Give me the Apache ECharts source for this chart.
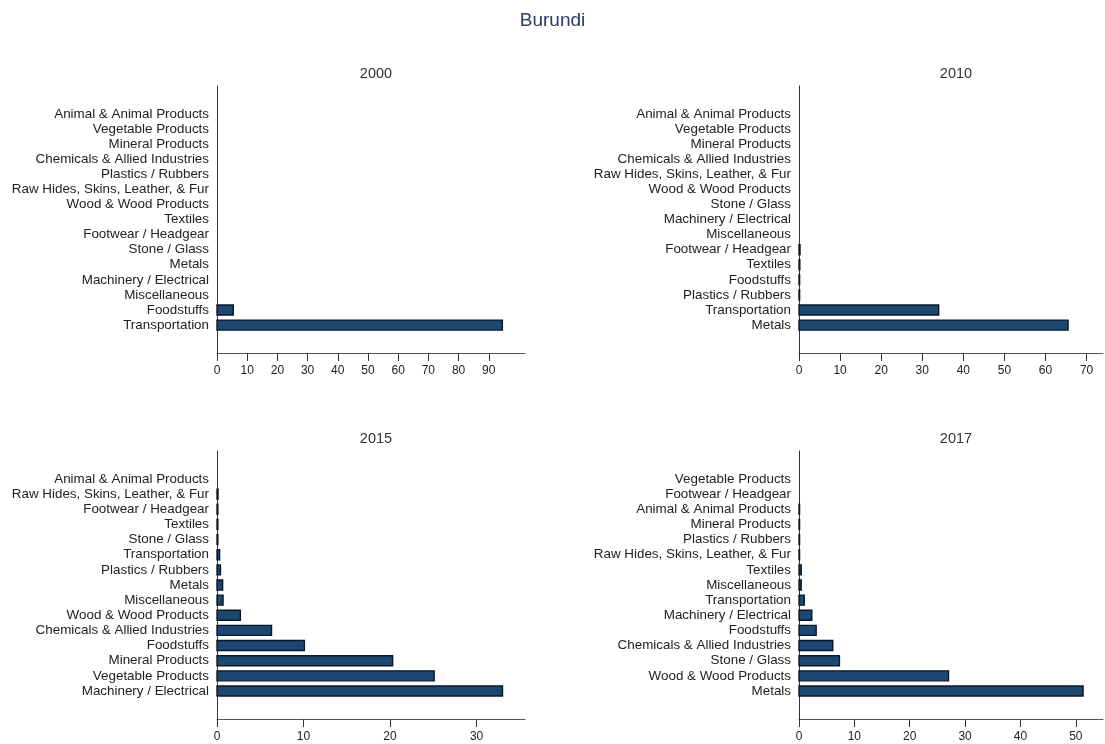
<!DOCTYPE html>
<html>
<head>
<meta charset="utf-8">
<script src="https://cdn.jsdelivr.net/npm/echarts@6/dist/echarts.min.js"></script>
<style>
html,body{margin:0;padding:0;background:#fff;}
#chart{width:1105px;height:744px;}
</style>
</head>
<body>
<div id="chart"></div>
<script>
// ---- Data (categories listed bottom -> top) ----
const title = 'Burundi';
const years = ['2000', '2010', '2015', '2017'];

const cats2000 = ['Transportation', 'Foodstuffs', 'Miscellaneous', 'Machinery / Electrical', 'Metals', 'Stone / Glass', 'Footwear / Headgear', 'Textiles', 'Wood & Wood Products', 'Raw Hides, Skins, Leather, & Fur', 'Plastics / Rubbers', 'Chemicals & Allied Industries', 'Mineral Products', 'Vegetable Products', 'Animal & Animal Products'];
const vals2000 = [94.5, 5.4, 0, 0, 0, 0, 0, 0, 0, 0, 0, 0, 0, 0, 0];

const cats2010 = ['Metals', 'Transportation', 'Plastics / Rubbers', 'Foodstuffs', 'Textiles', 'Footwear / Headgear', 'Miscellaneous', 'Machinery / Electrical', 'Stone / Glass', 'Wood & Wood Products', 'Raw Hides, Skins, Leather, & Fur', 'Chemicals & Allied Industries', 'Mineral Products', 'Vegetable Products', 'Animal & Animal Products'];
const vals2010 = [65.5, 34.0, 0.15, 0.15, 0.2, 0.25, 0, 0, 0, 0, 0, 0, 0, 0, 0];

const cats2015 = ['Machinery / Electrical', 'Vegetable Products', 'Mineral Products', 'Foodstuffs', 'Chemicals & Allied Industries', 'Wood & Wood Products', 'Miscellaneous', 'Metals', 'Plastics / Rubbers', 'Transportation', 'Stone / Glass', 'Textiles', 'Footwear / Headgear', 'Raw Hides, Skins, Leather, & Fur', 'Animal & Animal Products'];
const vals2015 = [33.0, 25.1, 20.3, 10.1, 6.3, 2.7, 0.7, 0.65, 0.4, 0.3, 0.1, 0.1, 0.1, 0.12, 0];

const cats2017 = ['Metals', 'Wood & Wood Products', 'Stone / Glass', 'Chemicals & Allied Industries', 'Foodstuffs', 'Machinery / Electrical', 'Transportation', 'Miscellaneous', 'Textiles', 'Raw Hides, Skins, Leather, & Fur', 'Plastics / Rubbers', 'Mineral Products', 'Animal & Animal Products', 'Footwear / Headgear', 'Vegetable Products'];
const vals2017 = [51.3, 27.0, 7.3, 6.1, 3.1, 2.3, 0.95, 0.4, 0.4, 0.1, 0.1, 0.1, 0.1, 0, 0];

const ticks2000 = [0, 10, 20, 30, 40, 50, 60, 70, 80, 90];
const ticks2010 = [0, 10, 20, 30, 40, 50, 60, 70];
const ticks2015 = [0, 10, 20, 30];
const ticks2017 = [0, 10, 20, 30, 40, 50];

// ---- Layout / style ----
const panels = [
  {year: years[0], cats: cats2000, vals: vals2000, ticks: ticks2000, max: 102,  grid: {left: 217, width: 308, top: 86,  height: 267}},
  {year: years[1], cats: cats2010, vals: vals2010, ticks: ticks2010, max: 74,   grid: {left: 799, width: 304, top: 86,  height: 267}},
  {year: years[2], cats: cats2015, vals: vals2015, ticks: ticks2015, max: 35.6, grid: {left: 217, width: 308, top: 451, height: 268}},
  {year: years[3], cats: cats2017, vals: vals2017, ticks: ticks2017, max: 54.9, grid: {left: 799, width: 304, top: 451, height: 268}}
];
const FONT = 'Liberation Sans, Arial, sans-serif';
const BAR_FILL = '#1d4670';
const BAR_STROKE = '#0b1828';
const BAR_H = 10;

const option = {
  animation: false,
  backgroundColor: '#ffffff',
  title: [{
    text: title, left: 'center', top: 6,
    textStyle: {fontFamily: FONT, fontSize: 19, fontWeight: 'normal', color: '#2b3a67'}
  }],
  grid: [], xAxis: [], yAxis: [], series: []
};

panels.forEach((p, i) => {
  option.grid.push(Object.assign({containLabel: false}, p.grid));
  option.title.push({
    text: p.year,
    left: p.grid.left + p.grid.width / 2, textAlign: 'center',
    top: p.grid.top - 25,
    textStyle: {fontFamily: FONT, fontSize: 14.5, fontWeight: 'normal', color: '#333'}
  });
  option.xAxis.push({
    type: 'value', gridIndex: i, min: 0, max: p.max,
    axisLine: {show: true, onZero: false, lineStyle: {color: '#555', width: 1}},
    axisTick: {show: true, length: 8, customValues: p.ticks, lineStyle: {color: '#333'}},
    axisLabel: {customValues: p.ticks, fontFamily: FONT, fontSize: 12, color: '#222', margin: 12},
    splitLine: {show: false}
  });
  option.yAxis.push({
    type: 'value', gridIndex: i, min: -1.85, max: p.cats.length - 1 + 1.85,
    axisLine: {show: true, onZero: false, lineStyle: {color: '#333', width: 1}},
    axisTick: {show: false},
    axisLabel: {
      customValues: p.cats.map((c, k) => k),
      formatter: v => p.cats[Math.round(v)] || '',
      fontFamily: FONT, fontSize: 13.4, color: '#222', margin: 8
    },
    splitLine: {show: false}
  });
  option.series.push({
    type: 'custom', xAxisIndex: i, yAxisIndex: i,
    data: p.vals.map((v, k) => [v, k]),
    renderItem: (params, api) => {
      const v = api.value(0), k = api.value(1);
      if (!v) return null;
      const a = api.coord([0, k]);
      const b = api.coord([v, k]);
      return {
        type: 'rect',
        shape: {x: a[0], y: a[1] - BAR_H / 2, width: b[0] - a[0], height: BAR_H},
        style: {fill: BAR_FILL, stroke: BAR_STROKE, lineWidth: 1.4}
      };
    }
  });
});

const chart = echarts.init(document.getElementById('chart'), null, {renderer: 'canvas'});
chart.setOption(option);
</script>
</body>
</html>
